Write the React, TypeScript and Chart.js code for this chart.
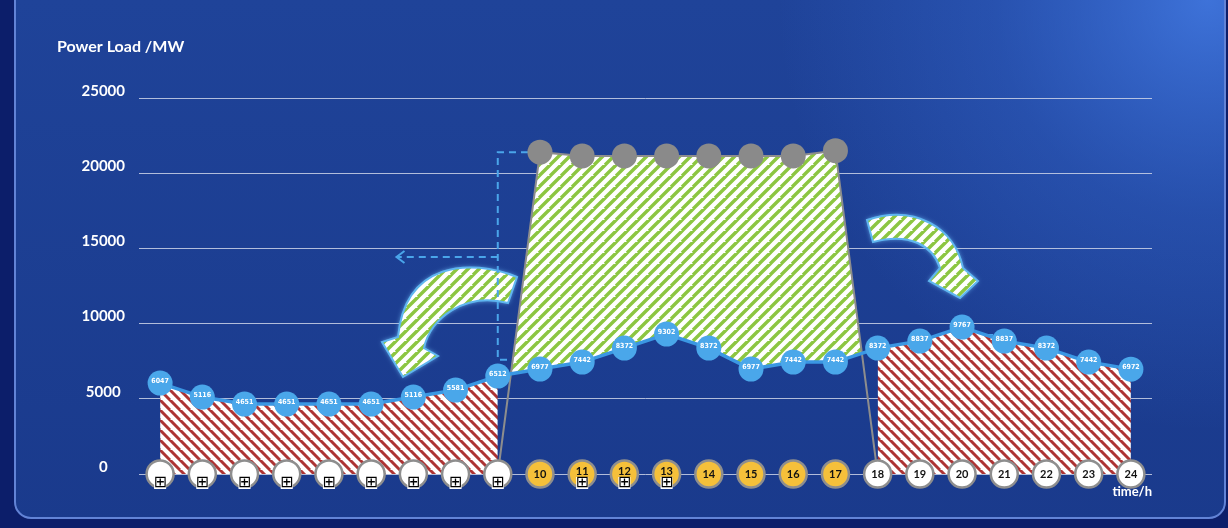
import React, { useEffect, useRef } from 'react';
import { Chart, registerables } from 'chart.js';

Chart.register(...registerables);

// ---- data ----
const hours = [1, 2, 3, 4, 5, 6, 7, 8, 9, 10, 11, 12, 13, 14, 15, 16, 17, 18, 19, 20, 21, 22, 23, 24];
const loadValues = [6047, 5116, 4651, 4651, 4651, 4651, 5116, 5581, 6512, 6977, 7442, 8372, 9302, 8372, 6977, 7442, 7442, 8372, 8837, 9767, 8837, 8372, 7442, 6972];
const peakValues = [null, null, null, null, null, null, null, null, 0, 21400, 21150, 21150, 21150, 21150, 21150, 21150, 21500, 0, null, null, null, null, null, null];
const offPeakValues = [6047, 5116, 4651, 4651, 4651, 4651, 5116, 5581, 6512, null, null, null, null, null, null, null, null, 8372, 8837, 9767, 8837, 8372, 7442, 6972];
const hourBase = [0, 0, 0, 0, 0, 0, 0, 0, 0, 0, 0, 0, 0, 0, 0, 0, 0, 0, 0, 0, 0, 0, 0, 0];
const hourLabels = ['', '', '', '', '', '', '', '', '', '10', '11', '12', '13', '14', '15', '16', '17', '18', '19', '20', '21', '22', '23', '24'];
const hourGlyphs = ['⊞', '⊞', '⊞', '⊞', '⊞', '⊞', '⊞', '⊞', '⊞', '', '⊞', '⊞', '⊞', '', '', '', '', '', '', '', '', '', '', ''];
const yTicks = [0, 5000, 10000, 15000, 20000, 25000];

function stripePattern(color: string, size: number, width: number, dir: 'down' | 'up') {
  const c = document.createElement('canvas');
  c.width = size;
  c.height = size;
  const g = c.getContext('2d')!;
  g.fillStyle = '#ffffff';
  g.fillRect(0, 0, size, size);
  g.strokeStyle = color;
  g.lineWidth = width;
  g.beginPath();
  for (const k of [-size, 0, size, 2 * size]) {
    if (dir === 'down') {
      g.moveTo(k - size, -size);
      g.lineTo(k + size, size);
    } else {
      g.moveTo(k + size, -size);
      g.lineTo(k - size, size);
    }
  }
  g.stroke();
  return g.createPattern(c, 'repeat')!;
}

export default function App() {
  const ref = useRef<HTMLCanvasElement | null>(null);

  useEffect(() => {
    const canvas = ref.current;
    if (!canvas) return;
    const redPat = stripePattern('#ad3434', 10, 3.0, 'down');
    const greenPat = stripePattern('#8cc641', 11, 3.4, 'up');

    const toPx = (chart: any, px: number, py: number) => {
      const xs = chart.scales.x;
      const ys = chart.scales.y;
      return [xs.getPixelForValue(0.5 + ((px - 139) * 24) / 1013), ys.getPixelForValue(((474 - py) * 25000) / 376)];
    };

    const bgPlugin = {
      id: 'bg',
      beforeDraw(chart: any) {
        const { ctx, width, height } = chart;
        ctx.save();
        ctx.fillStyle = '#0c1e6a';
        ctx.fillRect(0, 0, width, height);
        ctx.beginPath();
        ctx.roundRect(15, -20, width - 18, height + 10, 16);
        const g = ctx.createLinearGradient(0, 0, 0, height);
        g.addColorStop(0, '#1f4399');
        g.addColorStop(1, '#1a3a8c');
        ctx.fillStyle = g;
        ctx.fill();
        const r = ctx.createRadialGradient(width - 20, 0, 0, width - 20, 0, 430);
        r.addColorStop(0, 'rgba(72,130,238,0.75)');
        r.addColorStop(0.5, 'rgba(60,115,225,0.3)');
        r.addColorStop(1, 'rgba(60,115,225,0)');
        ctx.fillStyle = r;
        ctx.fill();
        ctx.lineWidth = 2;
        ctx.strokeStyle = '#6283d6';
        ctx.stroke();
        ctx.restore();
      },
    };

    const decoPlugin = {
      id: 'deco',
      beforeDatasetsDraw(chart: any) {
        const ctx = chart.ctx;
        const xs = chart.scales.x;
        const ys = chart.scales.y;
        ctx.save();
        // curved arrows
        const arrows = [
          [
            ['M', 517, 277],
            ['C', 470, 258, 405, 262, 398, 337],
            ['L', 382, 342],
            ['L', 403, 377],
            ['L', 438, 356],
            ['L', 424, 348],
            ['C', 430, 318, 465, 292, 508, 303],
          ],
          [
            ['M', 867, 220],
            ['C', 915, 204, 955, 228, 963, 268],
            ['L', 978, 281],
            ['L', 960, 298],
            ['L', 929, 281],
            ['L', 940, 268],
            ['C', 933, 246, 910, 232, 873, 242],
          ],
        ];
        for (const a of arrows) {
          ctx.beginPath();
          for (const cmd of a as any[]) {
            if (cmd[0] === 'M') {
              const p = toPx(chart, cmd[1], cmd[2]);
              ctx.moveTo(p[0], p[1]);
            } else if (cmd[0] === 'L') {
              const p = toPx(chart, cmd[1], cmd[2]);
              ctx.lineTo(p[0], p[1]);
            } else {
              const p1 = toPx(chart, cmd[1], cmd[2]);
              const p2 = toPx(chart, cmd[3], cmd[4]);
              const p3 = toPx(chart, cmd[5], cmd[6]);
              ctx.bezierCurveTo(p1[0], p1[1], p2[0], p2[1], p3[0], p3[1]);
            }
          }
          ctx.closePath();
          ctx.shadowColor = 'rgba(120,200,255,0.9)';
          ctx.shadowBlur = 5;
          ctx.fillStyle = greenPat;
          ctx.fill();
          ctx.shadowBlur = 0;
          ctx.lineWidth = 2;
          ctx.strokeStyle = '#5fb6f0';
          ctx.stroke();
        }
        // dashed guides
        ctx.strokeStyle = '#4aa5ea';
        ctx.lineWidth = 2;
        ctx.setLineDash([7, 5]);
        const poly = (pts: number[][]) => {
          ctx.beginPath();
          pts.forEach((p, i) => {
            const x = xs.getPixelForValue(p[0]);
            const y = ys.getPixelForValue(p[1]);
            if (i === 0) ctx.moveTo(x, y);
            else ctx.lineTo(x, y);
          });
          ctx.stroke();
        };
        poly([[10, 21400], [9, 21400], [9, 7600], [9.75, 7600]]);
        poly([[9, 14430], [6.6, 14430]]);
        poly([[20.28, 9250], [20.71, 9250], [20.71, 800], [20.25, 800]]);
        ctx.setLineDash([]);
        const ax = xs.getPixelForValue(6.6);
        const ay = ys.getPixelForValue(14430);
        ctx.beginPath();
        ctx.moveTo(ax + 8, ay - 6);
        ctx.lineTo(ax, ay);
        ctx.lineTo(ax + 8, ay + 6);
        ctx.stroke();
        ctx.restore();
      },
    };

    const labelPlugin = {
      id: 'labels',
      afterDatasetsDraw(chart: any) {
        const ctx = chart.ctx;
        ctx.save();
        ctx.textAlign = 'center';
        ctx.textBaseline = 'middle';
        ctx.fillStyle = '#ffffff';
        ctx.font = 'bold 7px "DejaVu Sans Condensed", "DejaVu Sans", sans-serif';
        chart.getDatasetMeta(1).data.forEach((pt: any, i: number) => {
          ctx.fillText(String(loadValues[i]), pt.x, pt.y - 2);
        });
        chart.getDatasetMeta(0).data.forEach((pt: any, i: number) => {
          const glyph = hourGlyphs[i];
          const label = hourLabels[i];
          ctx.fillStyle = '#111111';
          if (label) {
            ctx.font = 'bold 11px Lato, sans-serif';
            ctx.fillText(label, pt.x, glyph ? pt.y - 3 : pt.y);
          }
          if (glyph) {
            ctx.font = '16px "DejaVu Sans", sans-serif';
            ctx.fillStyle = '#ffffff';
            ctx.fillRect(pt.x - 6, pt.y + 3, 12, 12);
            ctx.fillStyle = '#000000';
            ctx.fillText(glyph, pt.x, pt.y + 9);
          }
        });
        ctx.restore();
      },
    };

    const chart = new Chart(canvas, {
      type: 'line',
      data: {
        labels: hours,
        datasets: [
          {
            label: 'Hour',
            data: hours.map((h, i) => ({ x: h, y: hourBase[i] })),
            showLine: false,
            pointRadius: 13.5,
            pointBorderWidth: 2.5,
            pointBorderColor: '#8e8e8e',
            pointBackgroundColor: hours.map((_, i) => ((peakValues[i] as number) > 0 ? '#f5c03a' : '#ffffff')),
            clip: false as any,
          },
          {
            label: 'Load',
            data: hours.map((h, i) => ({ x: h, y: loadValues[i] })),
            borderColor: '#3a97e3',
            borderWidth: 3.5,
            pointRadius: 12.5,
            pointBorderWidth: 0,
            pointBackgroundColor: '#4aa7ea',
            tension: 0,
            fill: false,
            clip: false as any,
          },
          {
            label: 'Peak',
            data: hours.map((h, i) => ({ x: h, y: peakValues[i] })),
            borderColor: '#8d8d8d',
            borderWidth: 2,
            pointRadius: peakValues.map((v) => ((v as number) > 0 ? 12.5 : 0)),
            pointBorderWidth: 0,
            pointBackgroundColor: '#8a8a8a',
            tension: 0,
            spanGaps: false,
            fill: { target: 1, above: greenPat as any, below: 'rgba(0,0,0,0)' },
            clip: false as any,
          },
          {
            label: 'Off-peak',
            data: hours.map((h, i) => ({ x: h, y: offPeakValues[i] })),
            borderWidth: 0,
            borderColor: 'rgba(0,0,0,0)',
            pointRadius: 0,
            tension: 0,
            spanGaps: false,
            backgroundColor: redPat as any,
            fill: 'origin',
          },
        ] as any,
      },
      options: {
        animation: false,
        responsive: true,
        maintainAspectRatio: false,
        events: [],
        layout: { padding: { left: 57, right: 76, top: 0, bottom: 28.4 } },
        plugins: {
          legend: { display: false },
          tooltip: { enabled: false },
          title: {
            display: true,
            text: 'Power Load /MW',
            align: 'start',
            color: '#ffffff',
            font: { family: 'Lato', weight: 'bold', size: 16, lineHeight: 1.2 },
            padding: { top: 37.4, bottom: 41.4 },
          },
        },
        scales: {
          x: {
            type: 'linear',
            min: 0.5,
            max: 24.5,
            ticks: { display: false },
            grid: { display: false, drawTicks: false },
            border: { display: false },
            title: {
              display: true,
              text: 'time/h',
              align: 'end',
              color: '#ffffff',
              font: { family: 'Lato', weight: 'bold', size: 13, lineHeight: 1.2 },
              padding: { top: 10, bottom: 0 },
            },
          },
          y: {
            min: 0,
            max: 25000,
            afterBuildTicks: (s: any) => {
              s.ticks = yTicks.map((v) => ({ value: v }));
            },
            afterFit: (s: any) => {
              s.width = 82;
            },
            ticks: {
              color: '#ffffff',
              font: { family: 'Lato', weight: 'bold', size: 15 },
              crossAlign: 'center',
              padding: 14,
              labelOffset: -7,
              callback: (v: any) => String(v),
            },
            grid: { color: 'rgba(205,212,232,0.85)', lineWidth: 1, drawTicks: false },
            border: { display: false },
          },
        },
      },
      plugins: [bgPlugin, decoPlugin, labelPlugin],
    });
    return () => chart.destroy();
  }, []);

  return (
    <div style={{ position: 'absolute', left: 0, top: 0, width: 1228, height: 528 }}>
      <canvas ref={ref} />
    </div>
  );
}
